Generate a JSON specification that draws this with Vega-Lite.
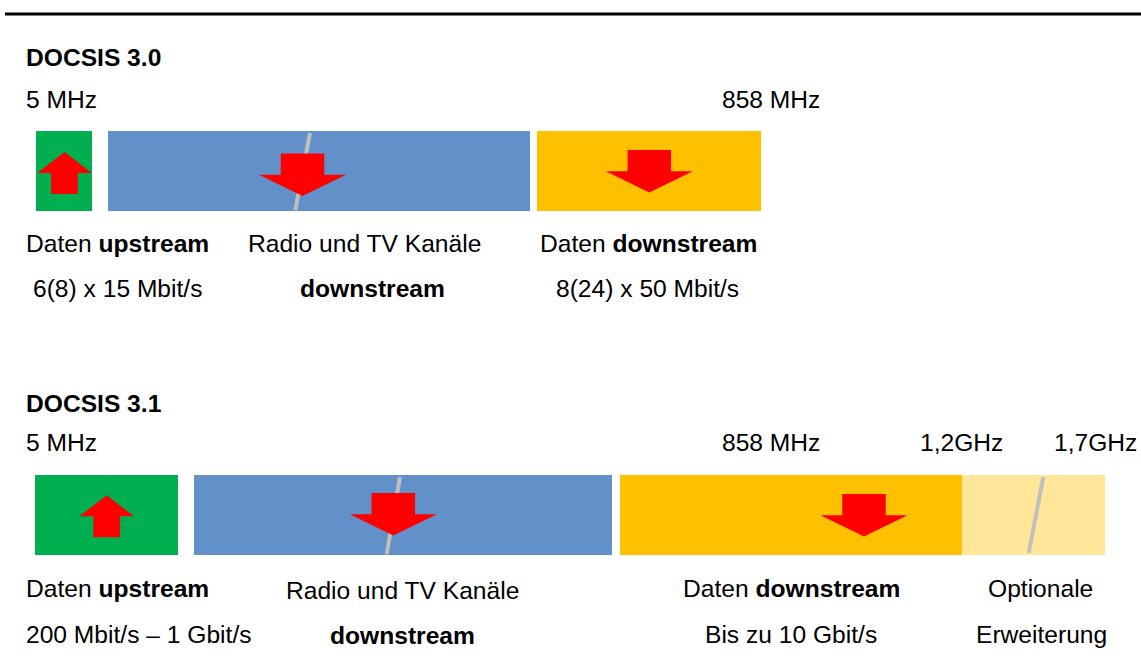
{
  "$schema": "https://vega.github.io/schema/vega-lite/v6.json",
  "width": 1141,
  "height": 670,
  "padding": 0,
  "autosize": {"type": "none"},
  "background": "white",
  "config": {"view": {"stroke": null}},
  "datasets": {
    "frame": [{"x": 5, "x2": 1141, "y": 14}],
    "bars": [
      {"diagram": "DOCSIS 3.0", "segment": "Upstream", "start": 36, "end": 92, "top": 131, "bottom": 211},
      {"diagram": "DOCSIS 3.0", "segment": "Radio/TV", "start": 108, "end": 530, "top": 131, "bottom": 211},
      {"diagram": "DOCSIS 3.0", "segment": "Downstream", "start": 537, "end": 761, "top": 131, "bottom": 211},
      {"diagram": "DOCSIS 3.1", "segment": "Upstream", "start": 35, "end": 178, "top": 475, "bottom": 555},
      {"diagram": "DOCSIS 3.1", "segment": "Radio/TV", "start": 194, "end": 612, "top": 475, "bottom": 555},
      {"diagram": "DOCSIS 3.1", "segment": "Downstream", "start": 620, "end": 962, "top": 475, "bottom": 555},
      {"diagram": "DOCSIS 3.1", "segment": "Optional", "start": 962, "end": 1105, "top": 475, "bottom": 555}
    ],
    "upArrows": [
      {"diagram": "DOCSIS 3.0", "cx": 64.5, "cy": 173},
      {"diagram": "DOCSIS 3.1", "cx": 106.7, "cy": 516.3}
    ],
    "downArrows": [
      {"diagram": "DOCSIS 3.0", "cx": 302.5, "cy": 174.7},
      {"diagram": "DOCSIS 3.0", "cx": 649.3, "cy": 171.3},
      {"diagram": "DOCSIS 3.1", "cx": 393.3, "cy": 514.3},
      {"diagram": "DOCSIS 3.1", "cx": 864, "cy": 515.3}
    ],
    "breaks": [
      {"diagram": "DOCSIS 3.0", "xa": 310, "ya": 133, "xb": 295.3, "yb": 210},
      {"diagram": "DOCSIS 3.1", "xa": 400, "ya": 477, "xb": 386.7, "yb": 554},
      {"diagram": "DOCSIS 3.1", "xa": 1043.3, "ya": 477, "xb": 1028.7, "yb": 553}
    ],
    "plain": [
      {"label": "5 MHz", "px": 26, "py": 108},
      {"label": "858 MHz", "px": 722, "py": 108},
      {"label": "Daten", "px": 26, "py": 252},
      {"label": "Radio und TV Kanäle", "px": 248, "py": 252},
      {"label": "Daten", "px": 540, "py": 252},
      {"label": "6(8) x 15 Mbit/s", "px": 33, "py": 297},
      {"label": "8(24) x 50 Mbit/s", "px": 556, "py": 297},
      {"label": "5 MHz", "px": 26, "py": 451},
      {"label": "858 MHz", "px": 722, "py": 451},
      {"label": "1,2GHz", "px": 920, "py": 451},
      {"label": "1,7GHz", "px": 1054, "py": 451},
      {"label": "Daten", "px": 26, "py": 597},
      {"label": "Radio und TV Kanäle", "px": 286, "py": 599},
      {"label": "Daten", "px": 683, "py": 597},
      {"label": "Optionale", "px": 988, "py": 597},
      {"label": "200 Mbit/s – 1 Gbit/s", "px": 26, "py": 643},
      {"label": "Bis zu 10 Gbit/s", "px": 705, "py": 643},
      {"label": "Erweiterung", "px": 976, "py": 643}
    ],
    "bold": [
      {"label": "DOCSIS 3.0", "px": 26, "py": 66},
      {"label": "upstream", "px": 98.5, "py": 252},
      {"label": "downstream", "px": 300, "py": 297},
      {"label": "downstream", "px": 612.5, "py": 252},
      {"label": "DOCSIS 3.1", "px": 26, "py": 412},
      {"label": "upstream", "px": 98.5, "py": 597},
      {"label": "downstream", "px": 330, "py": 644},
      {"label": "downstream", "px": 755.5, "py": 597}
    ]
  },
  "layer": [
    {
      "data": {"name": "frame"},
      "mark": {"type": "rule", "color": "#000000", "strokeWidth": 3},
      "encoding": {
        "x": {"field": "x", "type": "quantitative", "scale": {"domain": [0, 1141]}, "axis": null},
        "x2": {"field": "x2"},
        "y": {"field": "y", "type": "quantitative", "scale": {"domain": [0, 670], "reverse": true}, "axis": null}
      }
    },
    {
      "data": {"name": "bars"},
      "mark": {"type": "rect"},
      "encoding": {
        "x": {"field": "start", "type": "quantitative", "scale": {"domain": [0, 1141]}, "axis": null},
        "x2": {"field": "end"},
        "y": {"field": "top", "type": "quantitative", "scale": {"domain": [0, 670], "reverse": true}, "axis": null},
        "y2": {"field": "bottom"},
        "color": {
          "field": "segment",
          "type": "nominal",
          "scale": {"domain": ["Upstream", "Radio/TV", "Downstream", "Optional"], "range": ["#00B050", "#6290C8", "#FFC000", "#FFE699"]},
          "legend": null
        }
      }
    },
    {
      "data": {"name": "breaks"},
      "mark": {"type": "rule", "color": "#BFBFBF", "strokeWidth": 4},
      "encoding": {
        "x": {"field": "xa", "type": "quantitative", "scale": {"domain": [0, 1141]}, "axis": null},
        "x2": {"field": "xb"},
        "y": {"field": "ya", "type": "quantitative", "scale": {"domain": [0, 670], "reverse": true}, "axis": null},
        "y2": {"field": "yb"}
      }
    },
    {
      "data": {"name": "upArrows"},
      "mark": {"type": "point", "shape": "M0,-0.77L1,0L0.49,0L0.49,0.77L-0.49,0.77L-0.49,0L-1,0Z", "size": 2970, "filled": true, "color": "#FF0000", "opacity": 1, "strokeWidth": 0},
      "encoding": {
        "x": {"field": "cx", "type": "quantitative", "scale": {"domain": [0, 1141]}, "axis": null},
        "y": {"field": "cy", "type": "quantitative", "scale": {"domain": [0, 670], "reverse": true}, "axis": null}
      }
    },
    {
      "data": {"name": "downArrows"},
      "mark": {"type": "point", "shape": "M-0.5,-0.49L0.5,-0.49L0.5,0L1,0L0,0.49L-1,0L-0.5,0Z", "size": 7569, "filled": true, "color": "#FF0000", "opacity": 1, "strokeWidth": 0},
      "encoding": {
        "x": {"field": "cx", "type": "quantitative", "scale": {"domain": [0, 1141]}, "axis": null},
        "y": {"field": "cy", "type": "quantitative", "scale": {"domain": [0, 670], "reverse": true}, "axis": null}
      }
    },
    {
      "data": {"name": "plain"},
      "mark": {"type": "text", "align": "left", "baseline": "alphabetic", "font": "Liberation Sans", "fontSize": 24.6, "color": "#000000"},
      "encoding": {
        "x": {"field": "px", "type": "quantitative", "scale": {"domain": [0, 1141]}, "axis": null},
        "y": {"field": "py", "type": "quantitative", "scale": {"domain": [0, 670], "reverse": true}, "axis": null},
        "text": {"field": "label"}
      }
    },
    {
      "data": {"name": "bold"},
      "mark": {"type": "text", "align": "left", "baseline": "alphabetic", "font": "Liberation Sans", "fontSize": 24.6, "fontWeight": "bold", "color": "#000000"},
      "encoding": {
        "x": {"field": "px", "type": "quantitative", "scale": {"domain": [0, 1141]}, "axis": null},
        "y": {"field": "py", "type": "quantitative", "scale": {"domain": [0, 670], "reverse": true}, "axis": null},
        "text": {"field": "label"}
      }
    }
  ]
}
